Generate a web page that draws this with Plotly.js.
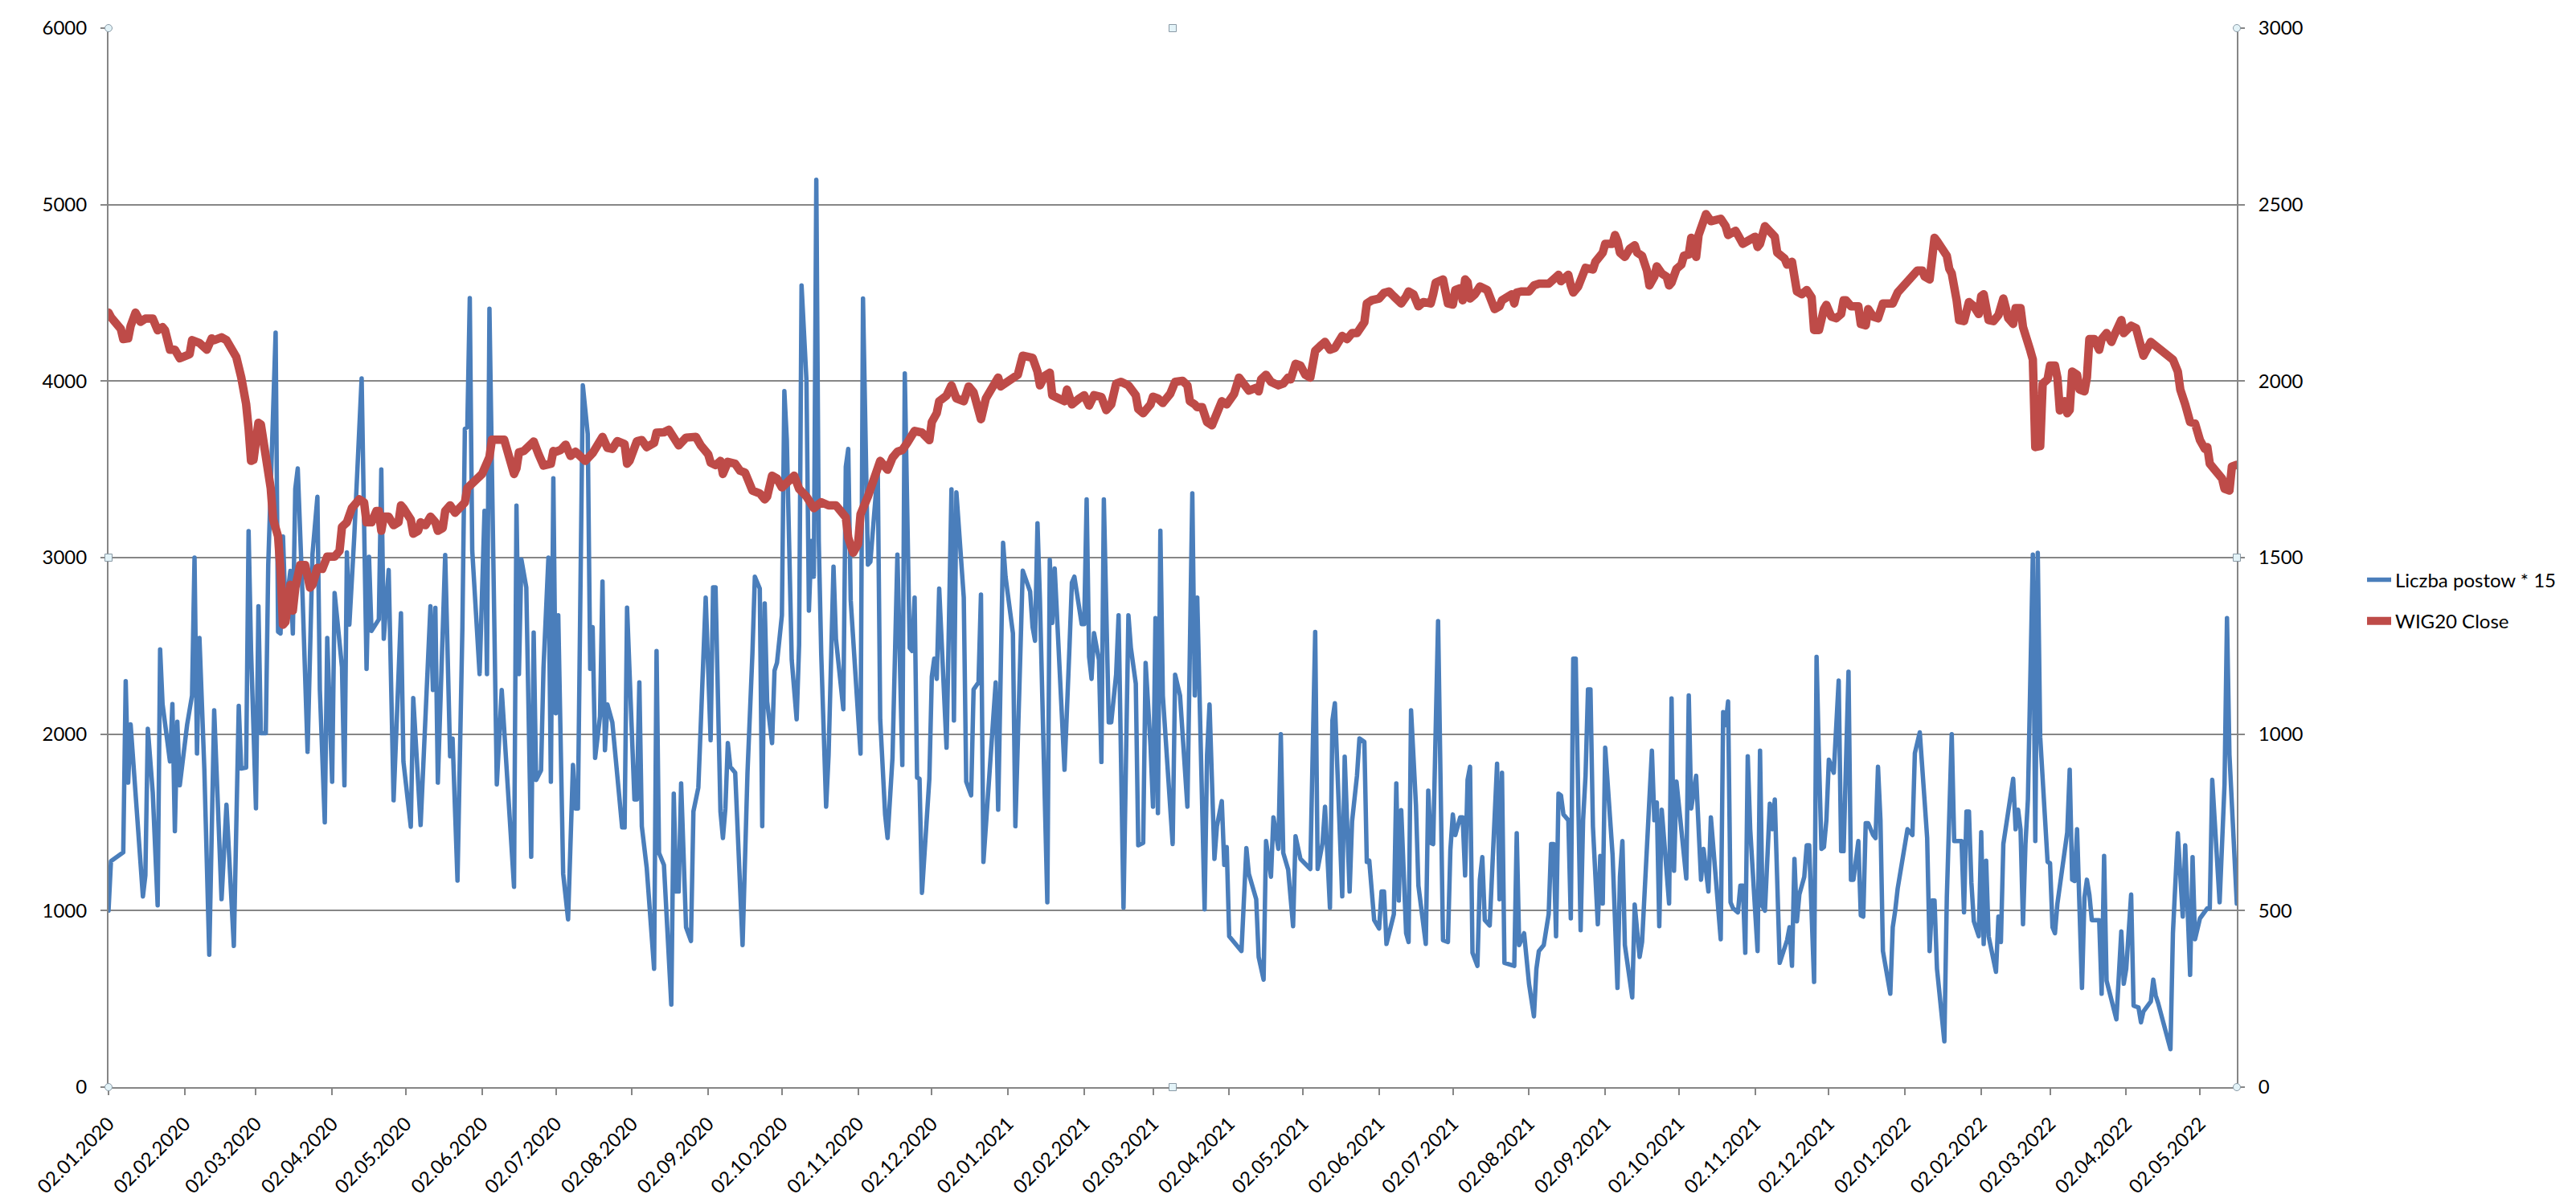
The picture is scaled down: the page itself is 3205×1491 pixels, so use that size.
<!DOCTYPE html>
<html>
<head>
<meta charset="utf-8">
<script src="https://cdn.plot.ly/plotly-3.0.1.min.js"></script>
<style>
  html, body { margin: 0; padding: 0; background: #fff; }
  #graph { width: 3205px; height: 1491px; }
  .scatterlayer .js-line { stroke-linejoin: round; stroke-linecap: round; }
</style>
</head>
<body>
<div id="graph"></div>
<script>
// Liczba postow * 15 (left axis)
let postDates = [
  "2020-01-02","2020-01-03","2020-01-08","2020-01-09","2020-01-10","2020-01-11","2020-01-16","2020-01-17","2020-01-18","2020-01-20",
  "2020-01-22","2020-01-23","2020-01-24","2020-01-27","2020-01-28","2020-01-29","2020-01-30","2020-01-31","2020-02-03","2020-02-05",
  "2020-02-06","2020-02-07","2020-02-08","2020-02-10","2020-02-12","2020-02-13","2020-02-14","2020-02-17","2020-02-19","2020-02-22",
  "2020-02-24","2020-02-25","2020-02-27","2020-02-28","2020-02-29","2020-03-02","2020-03-03","2020-03-04","2020-03-06","2020-03-07",
  "2020-03-10","2020-03-11","2020-03-12","2020-03-13","2020-03-14","2020-03-16","2020-03-17","2020-03-18","2020-03-19","2020-03-21",
  "2020-03-23","2020-03-25","2020-03-27","2020-03-28","2020-03-30","2020-03-31","2020-04-02","2020-04-03","2020-04-06","2020-04-07",
  "2020-04-08","2020-04-09","2020-04-11","2020-04-14","2020-04-16","2020-04-17","2020-04-18","2020-04-21","2020-04-22","2020-04-23",
  "2020-04-25","2020-04-27","2020-04-30","2020-05-01","2020-05-04","2020-05-05","2020-05-08","2020-05-12","2020-05-13","2020-05-14",
  "2020-05-15","2020-05-18","2020-05-20","2020-05-21","2020-05-23","2020-05-25","2020-05-26","2020-05-27","2020-05-28","2020-05-29",
  "2020-06-01","2020-06-03","2020-06-04","2020-06-05","2020-06-06","2020-06-08","2020-06-10","2020-06-15","2020-06-16","2020-06-17",
  "2020-06-18","2020-06-20","2020-06-22","2020-06-23","2020-06-24","2020-06-26","2020-06-27","2020-06-29","2020-06-30","2020-07-01",
  "2020-07-02","2020-07-03","2020-07-05","2020-07-07","2020-07-09","2020-07-10","2020-07-11","2020-07-12","2020-07-13","2020-07-15",
  "2020-07-16","2020-07-17","2020-07-18","2020-07-20","2020-07-21","2020-07-22","2020-07-23","2020-07-25","2020-07-29","2020-07-30",
  "2020-07-31","2020-08-03","2020-08-04","2020-08-05","2020-08-06","2020-08-08","2020-08-11","2020-08-12","2020-08-13","2020-08-15",
  "2020-08-18","2020-08-19","2020-08-20","2020-08-21","2020-08-22","2020-08-24","2020-08-26","2020-08-27","2020-08-29","2020-09-01",
  "2020-09-03","2020-09-04","2020-09-05","2020-09-07","2020-09-08","2020-09-09","2020-09-10","2020-09-11","2020-09-13","2020-09-16",
  "2020-09-18","2020-09-20","2020-09-21","2020-09-23","2020-09-24","2020-09-25","2020-09-26","2020-09-28","2020-09-29","2020-09-30",
  "2020-10-02","2020-10-03","2020-10-04","2020-10-06","2020-10-08","2020-10-09","2020-10-10","2020-10-12","2020-10-13","2020-10-14",
  "2020-10-15","2020-10-16","2020-10-17","2020-10-18","2020-10-20","2020-10-21","2020-10-23","2020-10-24","2020-10-27","2020-10-28",
  "2020-10-29","2020-10-30","2020-11-03","2020-11-04","2020-11-05","2020-11-06","2020-11-07","2020-11-10","2020-11-11","2020-11-13",
  "2020-11-14","2020-11-16","2020-11-18","2020-11-20","2020-11-21","2020-11-23","2020-11-24","2020-11-25","2020-11-26","2020-11-27",
  "2020-11-28","2020-12-01","2020-12-02","2020-12-03","2020-12-04","2020-12-05","2020-12-08","2020-12-10","2020-12-11","2020-12-12",
  "2020-12-15","2020-12-16","2020-12-18","2020-12-19","2020-12-21","2020-12-22","2020-12-23","2020-12-28","2020-12-29","2020-12-31",
  "2021-01-01","2021-01-04","2021-01-05","2021-01-08","2021-01-11","2021-01-12","2021-01-13","2021-01-14","2021-01-15","2021-01-18",
  "2021-01-19","2021-01-20","2021-01-21","2021-01-25","2021-01-27","2021-01-28","2021-01-29","2021-02-01","2021-02-02","2021-02-03",
  "2021-02-04","2021-02-05","2021-02-06","2021-02-08","2021-02-09","2021-02-10","2021-02-12","2021-02-13","2021-02-15","2021-02-16",
  "2021-02-18","2021-02-20","2021-02-21","2021-02-23","2021-02-24","2021-02-26","2021-02-27","2021-03-01","2021-03-02","2021-03-03",
  "2021-03-04","2021-03-05","2021-03-06","2021-03-10","2021-03-11","2021-03-13","2021-03-16","2021-03-18","2021-03-19","2021-03-20",
  "2021-03-23","2021-03-24","2021-03-25","2021-03-27","2021-03-28","2021-03-30","2021-03-31","2021-04-01","2021-04-02","2021-04-07",
  "2021-04-09","2021-04-10","2021-04-13","2021-04-14","2021-04-16","2021-04-17","2021-04-19","2021-04-20","2021-04-22","2021-04-23",
  "2021-04-24","2021-04-26","2021-04-28","2021-04-29","2021-05-01","2021-05-05","2021-05-07","2021-05-08","2021-05-10","2021-05-11",
  "2021-05-13","2021-05-14","2021-05-15","2021-05-18","2021-05-19","2021-05-21","2021-05-22","2021-05-24","2021-05-25","2021-05-27",
  "2021-05-28","2021-05-29","2021-05-31","2021-06-02","2021-06-03","2021-06-04","2021-06-05","2021-06-08","2021-06-09","2021-06-10",
  "2021-06-11","2021-06-12","2021-06-13","2021-06-14","2021-06-15","2021-06-17","2021-06-18","2021-06-21","2021-06-22","2021-06-23",
  "2021-06-24","2021-06-26","2021-06-27","2021-06-28","2021-06-30","2021-07-01","2021-07-02","2021-07-03","2021-07-05","2021-07-06",
  "2021-07-07","2021-07-08","2021-07-09","2021-07-10","2021-07-12","2021-07-13","2021-07-14","2021-07-15","2021-07-17","2021-07-19",
  "2021-07-20","2021-07-21","2021-07-22","2021-07-23","2021-07-27","2021-07-28","2021-07-29","2021-07-31","2021-08-02","2021-08-04",
  "2021-08-05","2021-08-06","2021-08-08","2021-08-10","2021-08-11","2021-08-12","2021-08-13","2021-08-14","2021-08-15","2021-08-16",
  "2021-08-18","2021-08-19","2021-08-20","2021-08-21","2021-08-23","2021-08-24","2021-08-25","2021-08-26","2021-08-27","2021-08-28",
  "2021-08-30","2021-08-31","2021-09-01","2021-09-02","2021-09-05","2021-09-07","2021-09-08","2021-09-09","2021-09-10","2021-09-13",
  "2021-09-14","2021-09-16","2021-09-17","2021-09-21","2021-09-22","2021-09-23","2021-09-24","2021-09-25","2021-09-26","2021-09-28",
  "2021-09-29","2021-09-30","2021-10-01","2021-10-03","2021-10-05","2021-10-06","2021-10-07","2021-10-09","2021-10-11","2021-10-12",
  "2021-10-14","2021-10-15","2021-10-19","2021-10-20","2021-10-21","2021-10-22","2021-10-23","2021-10-24","2021-10-26","2021-10-27",
  "2021-10-28","2021-10-29","2021-10-30","2021-10-31","2021-11-03","2021-11-04","2021-11-05","2021-11-06","2021-11-08","2021-11-09",
  "2021-11-10","2021-11-12","2021-11-15","2021-11-16","2021-11-17","2021-11-18","2021-11-19","2021-11-20","2021-11-22","2021-11-23",
  "2021-11-24","2021-11-26","2021-11-27","2021-11-28","2021-11-29","2021-11-30","2021-12-01","2021-12-02","2021-12-04","2021-12-06",
  "2021-12-07","2021-12-08","2021-12-10","2021-12-11","2021-12-12","2021-12-14","2021-12-15","2021-12-16","2021-12-17","2021-12-18",
  "2021-12-20","2021-12-21","2021-12-22","2021-12-23","2021-12-24","2021-12-27","2021-12-28","2021-12-29","2021-12-30","2022-01-03",
  "2022-01-05","2022-01-06","2022-01-08","2022-01-10","2022-01-11","2022-01-12","2022-01-13","2022-01-14","2022-01-15","2022-01-18",
  "2022-01-19","2022-01-21","2022-01-22","2022-01-25","2022-01-26","2022-01-27","2022-01-28","2022-01-29","2022-01-30","2022-02-01",
  "2022-02-02","2022-02-03","2022-02-04","2022-02-05","2022-02-08","2022-02-09","2022-02-10","2022-02-11","2022-02-15","2022-02-16",
  "2022-02-17","2022-02-18","2022-02-19","2022-02-20","2022-02-21","2022-02-23","2022-02-24","2022-02-25","2022-02-26","2022-03-01",
  "2022-03-02","2022-03-03","2022-03-04","2022-03-05","2022-03-08","2022-03-09","2022-03-10","2022-03-11","2022-03-12","2022-03-13",
  "2022-03-15","2022-03-16","2022-03-17","2022-03-18","2022-03-19","2022-03-22","2022-03-23","2022-03-24","2022-03-25","2022-03-29",
  "2022-03-31","2022-04-01","2022-04-02","2022-04-04","2022-04-05","2022-04-07","2022-04-08","2022-04-09","2022-04-12","2022-04-13",
  "2022-04-14","2022-04-15","2022-04-20","2022-04-21","2022-04-23","2022-04-25","2022-04-26","2022-04-28","2022-04-29","2022-04-30",
  "2022-05-02","2022-05-05","2022-05-06","2022-05-07","2022-05-10","2022-05-12","2022-05-13","2022-05-14","2022-05-17"
];
let postValues = [
  1000,1280,1330,2300,1725,2055,1080,1200,2030,1670,
  1030,2480,2170,1845,2170,1450,2070,1710,2055,2220,
  3000,1890,2545,1800,750,1600,2135,1065,1600,800,
  2160,1805,1810,3150,2475,1580,2725,2005,2005,2960,
  4275,2580,2570,3120,2700,2925,2570,3390,3505,2765,
  1900,3020,3345,2250,1500,2545,1730,2800,2380,1710,
  3030,2620,3120,4015,2370,3005,2585,2650,3500,2540,
  2930,1625,2685,1845,1475,2205,1485,2725,2250,2715,
  1725,3015,1875,1975,1170,2605,3730,3740,4470,3040,
  2340,3265,2340,4410,3605,1715,2250,1135,3295,2340,
  2990,2830,1305,2575,1740,1795,2375,3000,1730,3450,
  2118,2673,1209,950,1825,1579,1579,2892,3976,3700,
  2370,2606,1865,2101,2865,1909,2168,2067,1471,1471,
  2717,1630,1630,2293,1478,1242,670,2471,1327,1259,
  468,1663,1108,1108,1721,906,828,1562,1697,2774,
  1966,2832,2832,1562,1411,1579,1949,1815,1781,805,
  1781,2455,2892,2825,1478,2741,2185,1949,2360,2404,
  2673,3943,3667,2421,2084,2505,4542,4003,2700,3094,
  2892,5141,3094,2455,1589,1882,2949,2539,2141,3515,
  3616,2758,1889,4468,3633,2960,2976,3498,2084,1545,
  1411,1865,3017,1825,4044,2488,2471,2774,1754,1747,
  1101,1747,2326,2428,2313,2825,1923,3387,2077,3370,
  2774,1731,1653,2253,2293,2791,1276,2293,1572,3084,
  2892,2572,1478,2926,2808,2606,2529,3195,2758,1047,
  2987,2630,2939,1798,2488,2859,2892,2623,2623,3330,
  2438,2313,2572,2421,1842,3330,2067,2067,2337,2673,
  1017,2673,2488,2286,1370,1384,2404,1933,1589,2657,
  1552,3152,2219,1377,2337,2219,1589,3364,2219,2774,
  1007,1882,2168,1293,1478,1620,1259,1360,855,771,
  1354,1209,1064,737,609,1394,1192,1529,1350,2000,
  1327,1232,912,1421,1293,1236,2579,1236,1384,1589,
  1017,2077,2175,1081,1872,1108,1505,1764,1976,1956,
  1276,1283,946,899,1108,1108,811,980,1721,1057,
  1569,1182,872,822,2135,1596,1141,811,1680,1384,
  1377,2640,1848,832,822,1343,1545,1428,1529,1529,
  1199,1741,1815,761,687,1175,1303,946,916,1545,
  1832,1064,1781,704,687,1438,805,872,586,401,
  670,771,805,980,1377,1377,855,1663,1653,1545,
  1512,956,2428,2428,889,1512,1764,2253,2253,1478,
  923,1310,1040,1923,1316,562,1192,1394,805,508,
  1034,737,822,1906,1512,1613,912,1572,1377,1040,
  2202,1226,1731,1478,1182,2219,1579,1764,1175,1350,
  1108,1529,838,2125,2051,2185,1047,1013,990,1141,
  1141,761,1875,1461,771,1906,1024,1000,1606,1461,
  1630,704,832,906,687,1293,939,1091,1192,1370,
  1370,596,2438,1848,1350,1360,1512,1855,1781,2303,
  1337,1337,2354,1175,1175,1394,973,966,1495,1495,
  1428,1411,1815,1512,771,529,906,1000,1125,1461,
  1428,1892,2010,1613,1411,771,1057,1057,670,259,
  1074,2000,1394,1394,990,1562,1562,1158,939,855,
  1444,811,1283,855,653,966,822,1377,1747,1461,
  1572,1461,923,1377,1630,3017,1394,3027,1983,1276,
  1269,906,872,1040,1370,1444,1798,1175,1168,1461,
  562,1074,1175,1091,946,946,529,1310,603,384,
  882,586,670,1091,461,451,367,428,485,609,
  519,475,215,872,1438,966,1370,636,1303,838,
  956,1013,1013,1741,1047,1714,2657,1882,1040
];

// WIG20 Close (right axis)
let wigDates = [
  "2020-01-02","2020-01-03","2020-01-07","2020-01-08","2020-01-10","2020-01-11","2020-01-13","2020-01-15","2020-01-17","2020-01-20",
  "2020-01-22","2020-01-24","2020-01-25","2020-01-27","2020-01-29","2020-01-31","2020-02-04","2020-02-05","2020-02-08","2020-02-11",
  "2020-02-13","2020-02-14","2020-02-17","2020-02-19","2020-02-21","2020-02-23","2020-02-25","2020-02-26","2020-02-27","2020-02-28",
  "2020-02-29","2020-03-01","2020-03-03","2020-03-04","2020-03-06","2020-03-08","2020-03-09","2020-03-11","2020-03-12","2020-03-13",
  "2020-03-14","2020-03-15","2020-03-16","2020-03-17","2020-03-18","2020-03-20","2020-03-22","2020-03-24","2020-03-25","2020-03-27",
  "2020-03-29","2020-03-31","2020-04-03","2020-04-05","2020-04-06","2020-04-08","2020-04-10","2020-04-13","2020-04-15","2020-04-16",
  "2020-04-18","2020-04-20","2020-04-21","2020-04-22","2020-04-23","2020-04-25","2020-04-27","2020-04-29","2020-04-30","2020-05-01",
  "2020-05-04","2020-05-05","2020-05-07","2020-05-08","2020-05-10","2020-05-12","2020-05-14","2020-05-15","2020-05-17","2020-05-18",
  "2020-05-20","2020-05-22","2020-05-24","2020-05-26","2020-05-27","2020-05-30","2020-06-02","2020-06-05","2020-06-06","2020-06-11",
  "2020-06-13","2020-06-15","2020-06-16","2020-06-17","2020-06-19","2020-06-22","2020-06-23","2020-06-25","2020-06-27","2020-06-30",
  "2020-07-01","2020-07-02","2020-07-04","2020-07-06","2020-07-08","2020-07-10","2020-07-14","2020-07-17","2020-07-19","2020-07-21",
  "2020-07-23","2020-07-25","2020-07-27","2020-07-30","2020-07-31","2020-08-01","2020-08-04","2020-08-06","2020-08-08","2020-08-11",
  "2020-08-12","2020-08-15","2020-08-17","2020-08-20","2020-08-21","2020-08-24","2020-08-26","2020-08-28","2020-08-30","2020-09-02",
  "2020-09-03","2020-09-05","2020-09-07","2020-09-08","2020-09-10","2020-09-13","2020-09-15","2020-09-17","2020-09-20","2020-09-23",
  "2020-09-25","2020-09-26","2020-09-28","2020-09-30","2020-10-02","2020-10-04","2020-10-07","2020-10-09","2020-10-12","2020-10-15",
  "2020-10-18","2020-10-21","2020-10-24","2020-10-26","2020-10-28","2020-10-29","2020-10-31","2020-11-02","2020-11-03","2020-11-06",
  "2020-11-09","2020-11-11","2020-11-14","2020-11-16","2020-11-18","2020-11-20","2020-11-22","2020-11-25","2020-11-28","2020-12-01",
  "2020-12-02","2020-12-04","2020-12-05","2020-12-08","2020-12-10","2020-12-12","2020-12-15","2020-12-17","2020-12-19","2020-12-21",
  "2020-12-22","2020-12-24","2020-12-26","2020-12-29","2020-12-30","2021-01-02","2021-01-06","2021-01-08","2021-01-12","2021-01-14",
  "2021-01-15","2021-01-17","2021-01-19","2021-01-20","2021-01-25","2021-01-26","2021-01-28","2021-01-31","2021-02-02","2021-02-04",
  "2021-02-06","2021-02-09","2021-02-11","2021-02-13","2021-02-15","2021-02-17","2021-02-20","2021-02-23","2021-02-24","2021-02-26",
  "2021-03-01","2021-03-02","2021-03-04","2021-03-06","2021-03-09","2021-03-11","2021-03-14","2021-03-16","2021-03-17","2021-03-19",
  "2021-03-20","2021-03-22","2021-03-24","2021-03-26","2021-03-28","2021-03-30","2021-04-01","2021-04-04","2021-04-06","2021-04-09",
  "2021-04-10","2021-04-13","2021-04-14","2021-04-15","2021-04-17","2021-04-19","2021-04-22","2021-04-24","2021-04-26","2021-04-27",
  "2021-04-29","2021-05-01","2021-05-03","2021-05-05","2021-05-06","2021-05-07","2021-05-09","2021-05-11","2021-05-13","2021-05-15",
  "2021-05-18","2021-05-20","2021-05-22","2021-05-24","2021-05-27","2021-05-28","2021-05-30","2021-06-02","2021-06-04","2021-06-06",
  "2021-06-08","2021-06-10","2021-06-11","2021-06-13","2021-06-14","2021-06-16","2021-06-18","2021-06-20","2021-06-23","2021-06-24",
  "2021-06-25","2021-06-28","2021-06-30","2021-07-02","2021-07-03","2021-07-05","2021-07-06","2021-07-07","2021-07-08","2021-07-09",
  "2021-07-11","2021-07-13","2021-07-16","2021-07-19","2021-07-21","2021-07-22","2021-07-24","2021-07-26","2021-07-27","2021-07-28",
  "2021-07-30","2021-08-02","2021-08-04","2021-08-06","2021-08-10","2021-08-12","2021-08-14","2021-08-15","2021-08-18","2021-08-19",
  "2021-08-20","2021-08-22","2021-08-24","2021-08-25","2021-08-28","2021-08-29","2021-09-01","2021-09-02","2021-09-05","2021-09-06",
  "2021-09-07","2021-09-08","2021-09-10","2021-09-12","2021-09-14","2021-09-15","2021-09-17","2021-09-19","2021-09-20","2021-09-22",
  "2021-09-23","2021-09-25","2021-09-27","2021-09-28","2021-09-29","2021-10-01","2021-10-03","2021-10-04","2021-10-06","2021-10-07",
  "2021-10-09","2021-10-10","2021-10-13","2021-10-15","2021-10-19","2021-10-21","2021-10-22","2021-10-25","2021-10-26","2021-10-28",
  "2021-10-30","2021-11-02","2021-11-03","2021-11-04","2021-11-06","2021-11-08","2021-11-10","2021-11-11","2021-11-14","2021-11-15",
  "2021-11-17","2021-11-19","2021-11-21","2021-11-23","2021-11-25","2021-11-26","2021-11-28","2021-11-30","2021-12-01","2021-12-03",
  "2021-12-05","2021-12-07","2021-12-08","2021-12-09","2021-12-11","2021-12-14","2021-12-15","2021-12-17","2021-12-18","2021-12-20",
  "2021-12-22","2021-12-24","2021-12-28","2021-12-30","2022-01-01","2022-01-03","2022-01-05","2022-01-07","2022-01-09","2022-01-10",
  "2022-01-12","2022-01-14","2022-01-15","2022-01-17","2022-01-19","2022-01-20","2022-01-21","2022-01-23","2022-01-24","2022-01-26",
  "2022-01-28","2022-01-30","2022-02-01","2022-02-02","2022-02-03","2022-02-05","2022-02-07","2022-02-09","2022-02-11","2022-02-12",
  "2022-02-13","2022-02-15","2022-02-16","2022-02-18","2022-02-19","2022-02-22","2022-02-23","2022-02-24","2022-02-26","2022-02-27",
  "2022-03-01","2022-03-02","2022-03-04","2022-03-05","2022-03-06","2022-03-08","2022-03-09","2022-03-10","2022-03-11","2022-03-13",
  "2022-03-14","2022-03-16","2022-03-17","2022-03-18","2022-03-20","2022-03-22","2022-03-23","2022-03-25","2022-03-27","2022-03-28",
  "2022-03-30","2022-03-31","2022-04-01","2022-04-04","2022-04-06","2022-04-08","2022-04-09","2022-04-12","2022-04-14","2022-04-16",
  "2022-04-18","2022-04-21","2022-04-23","2022-04-24","2022-04-26","2022-04-28","2022-04-30","2022-05-01","2022-05-02","2022-05-04",
  "2022-05-05","2022-05-06","2022-05-09","2022-05-11","2022-05-12","2022-05-14","2022-05-15","2022-05-17"
];
let wigValues = [
  2194,2181,2148,2119,2121,2156,2194,2168,2177,2177,
  2144,2153,2144,2089,2089,2065,2076,2116,2108,2089,
  2121,2116,2124,2116,2092,2068,2011,1979,1935,1866,
  1774,1777,1882,1877,1794,1697,1608,1560,1463,1310,
  1318,1358,1423,1350,1415,1479,1479,1415,1423,1471,
  1468,1503,1503,1519,1587,1600,1640,1665,1656,1600,
  1600,1632,1632,1576,1616,1616,1592,1600,1648,1640,
  1608,1568,1576,1600,1592,1616,1600,1576,1584,1632,
  1648,1627,1640,1656,1697,1721,1737,1785,1834,1834,
  1777,1737,1753,1798,1802,1818,1829,1793,1761,1766,
  1802,1800,1805,1820,1788,1800,1774,1796,1820,1842,
  1811,1808,1830,1822,1766,1774,1830,1833,1813,1825,
  1854,1855,1862,1820,1818,1840,1843,1842,1818,1793,
  1769,1762,1774,1737,1771,1766,1746,1741,1690,1682,
  1665,1673,1732,1724,1699,1715,1732,1695,1673,1640,
  1657,1648,1648,1631,1614,1556,1514,1539,1623,1673,
  1741,1774,1749,1783,1800,1805,1825,1859,1854,1833,
  1884,1909,1943,1959,1988,1951,1943,1985,1968,1901,
  1892,1951,1976,2010,1985,1998,2018,2072,2066,2027,
  1988,2015,2024,1960,1943,1976,1934,1951,1960,1931,
  1960,1955,1918,1934,1993,1998,1988,1960,1921,1909,
  1934,1956,1951,1938,1964,1998,2001,1988,1943,1934,
  1926,1926,1884,1875,1918,1943,1934,1964,2010,1981,
  1973,1981,1971,2005,2018,1998,1988,1993,2010,2005,
  2049,2044,2018,2010,2044,2086,2099,2111,2089,2094,
  2128,2119,2136,2136,2167,2220,2229,2234,2250,2254,
  2240,2220,2220,2240,2254,2246,2212,2224,2220,2246,
  2279,2288,2220,2217,2258,2263,2229,2288,2280,2234,
  2246,2268,2258,2204,2212,2229,2237,2246,2220,2251,
  2254,2254,2271,2276,2276,2291,2301,2283,2301,2271,
  2251,2268,2296,2321,2316,2338,2364,2389,2389,2414,
  2397,2364,2352,2375,2385,2364,2355,2313,2271,2296,
  2325,2305,2296,2271,2279,2318,2330,2355,2359,2406,
  2352,2414,2473,2453,2460,2439,2414,2426,2414,2389,
  2397,2409,2380,2389,2439,2423,2409,2364,2347,2330,
  2338,2254,2246,2258,2237,2145,2145,2204,2216,2183,
  2178,2190,2229,2229,2212,2212,2162,2158,2204,2183,
  2178,2220,2220,2251,2268,2279,2296,2313,2313,2296,
  2288,2406,2397,2372,2355,2318,2305,2229,2173,2170,
  2224,2212,2190,2241,2246,2173,2170,2187,2234,2207,
  2178,2162,2207,2207,2153,2086,2061,1813,1816,1993,
  2005,2044,2044,2010,1917,1943,1909,1918,2027,2018,
  1976,1971,2010,2119,2119,2089,2119,2136,2111,2128,
  2170,2173,2136,2157,2150,2077,2072,2111,2099,2089,
  2077,2061,2027,1976,1934,1884,1880,1853,1833,1808,
  1813,1766,1741,1724,1695,1690,1758,1763
];

// monthly tick marks on the date axis
let tickDates = [
  "2020-01-02","2020-02-02","2020-03-02","2020-04-02","2020-05-02","2020-06-02","2020-07-02","2020-08-02",
  "2020-09-02","2020-10-02","2020-11-02","2020-12-02","2021-01-02","2021-02-02","2021-03-02","2021-04-02",
  "2021-05-02","2021-06-02","2021-07-02","2021-08-02","2021-09-02","2021-10-02","2021-11-02","2021-12-02",
  "2022-01-02","2022-02-02","2022-03-02","2022-04-02","2022-05-02"
];

let axisGray = "#868686";
let tickFont = { family: "Lato, 'Open Sans', sans-serif", size: 24, color: "#000000" };

function handle(x, y, kind) {
  // little Excel selection handles on the plot area frame
  return {
    type: kind, xref: "paper", yref: "paper",
    xsizemode: "pixel", ysizemode: "pixel",
    xanchor: x, yanchor: y,
    x0: -4.5, x1: 4.5, y0: -4.5, y1: 4.5,
    fillcolor: "#e3f3f8",
    line: { color: "#8a9aa6", width: 1 },
    layer: "above"
  };
}

function plot() {
  let posts = {
    x: postDates,
    y: postValues,
    name: "Liczba postow * 15",
    type: "scatter",
    mode: "lines",
    legendgroup: "a",
    line: { color: "#4A7EBB", width: 5.5 }
  };

  let wig = {
    x: wigDates,
    y: wigValues,
    name: "WIG20 Close",
    type: "scatter",
    mode: "lines",
    yaxis: "y2",
    legendgroup: "b",
    line: { color: "#BE4B48", width: 10.5 }
  };

  let layout = {
    width: 3205,
    height: 1491,
    margin: { l: 135, r: 422, t: 35, b: 138 },
    paper_bgcolor: "#ffffff",
    plot_bgcolor: "#ffffff",
    font: tickFont,
    showlegend: true,
    legend: {
      x: 1.0593, xanchor: "left",
      y: 0.4594, yanchor: "middle",
      font: tickFont,
      traceorder: "grouped",
      tracegroupgap: 17,
      bgcolor: "rgba(0,0,0,0)"
    },
    xaxis: {
      type: "date",
      range: ["2020-01-02", "2022-05-17"],
      tickmode: "array",
      tickvals: tickDates,
      tickformat: "%d.%m.%Y",
      tickangle: -45,
      ticks: "outside",
      ticklen: 8,
      tickwidth: 2,
      tickcolor: axisGray,
      ticklabelstandoff: 12,
      showline: true,
      linecolor: axisGray,
      linewidth: 2,
      showgrid: false,
      zeroline: false,
      tickfont: tickFont
    },
    yaxis: {
      range: [0, 6000],
      dtick: 1000,
      tick0: 0,
      ticks: "outside",
      ticklen: 8,
      tickwidth: 2,
      tickcolor: axisGray,
      ticklabelstandoff: 12,
      showline: true,
      linecolor: axisGray,
      linewidth: 2,
      showgrid: true,
      gridcolor: axisGray,
      gridwidth: 2,
      zeroline: false,
      tickfont: tickFont
    },
    yaxis2: {
      overlaying: "y",
      side: "right",
      range: [0, 3000],
      dtick: 500,
      tick0: 0,
      ticks: "outside",
      ticklen: 8,
      tickwidth: 2,
      tickcolor: axisGray,
      ticklabelstandoff: 12,
      showline: true,
      linecolor: axisGray,
      linewidth: 2,
      showgrid: false,
      zeroline: false,
      tickfont: tickFont
    },
    shapes: [
      handle(0, 1, "circle"), handle(0, 0.5, "rect"), handle(0, 0, "circle"),
      handle(0.5, 1, "rect"), handle(0.5, 0, "rect"),
      handle(1, 1, "circle"), handle(1, 0.5, "rect"), handle(1, 0, "circle")
    ]
  };

  Plotly.newPlot("graph", [posts, wig], layout, { staticPlot: true, displayModeBar: false });
}

plot();
</script>
</body>
</html>
